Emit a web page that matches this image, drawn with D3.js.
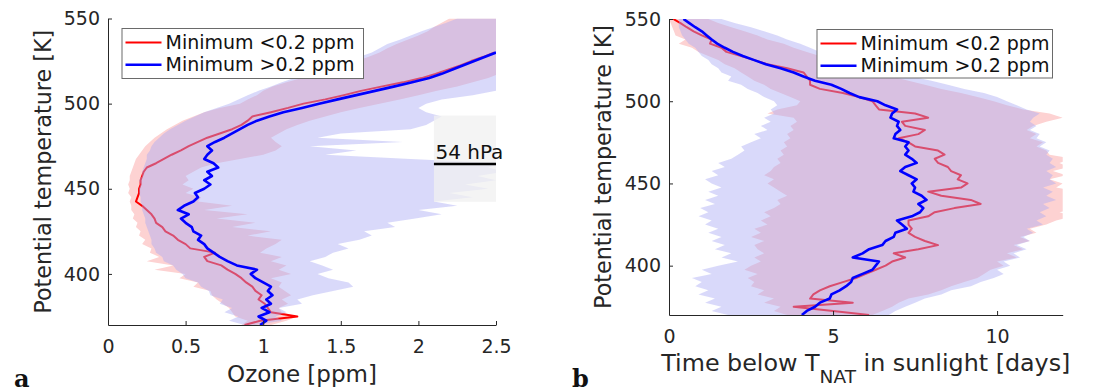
<!DOCTYPE html>
<html><head><meta charset="utf-8">
<script src="https://cdn.jsdelivr.net/npm/d3@7"></script>
<style>body{margin:0;background:#fff}svg{display:block}</style>
</head><body>
<script>
// Potential temperature levels [K]
const levels = [370,372.5,375,377.5,380,382.5,385,387.5,390,392.5,
  395,397.5,400,402.5,405,407.5,410,412.5,415,417.5,
  420,422.5,425,427.5,430,432.5,435,437.5,440,442.5,
  445,447.5,450,452.5,455,457.5,460,462.5,465,467.5,
  470,472.5,475,477.5,480,482.5,485,487.5,490,492.5,
  495,497.5,500,502.5,505,507.5,510,512.5,515,517.5,
  520,522.5,525,527.5,530,532.5,535,537.5,540,542.5,
  545,547.5,550];

// Panel a: ozone [ppm]
const ozoneLowMedian = [0.88,0.98,1.22,1.05,1.03,1.01,0.97,0.99,0.95,0.93,
  0.89,0.86,0.82,0.77,0.73,0.64,0.62,0.69,0.53,0.50,
  0.45,0.42,0.37,0.35,0.31,0.30,0.28,0.25,0.22,0.18,
  0.19,0.20,0.20,0.21,0.21,0.22,0.23,0.25,0.31,0.36,
  0.41,0.47,0.52,0.58,0.64,0.72,0.80,0.86,0.90,0.93,
  1.05,1.16,1.26,1.40,1.52,1.63,1.76,1.90,2.02,2.11,
  2.19,2.27,2.34,2.42,2.49,null,null,null,null,null,
  null,null,null];
const ozoneHighMedian = [0.98,1.02,0.97,1.04,0.99,1.05,1.02,1.06,1.03,1.05,
  1.00,0.95,0.92,0.96,0.83,0.77,0.72,0.68,0.64,0.62,
  0.58,0.60,0.55,0.54,0.50,0.47,0.52,0.45,0.49,0.55,
  0.58,0.56,0.62,0.66,0.62,0.67,0.64,0.71,0.68,0.62,
  0.64,0.67,0.64,0.69,0.75,0.80,0.85,0.90,0.96,1.04,
  1.13,1.25,1.36,1.48,1.60,1.72,1.84,1.96,2.07,2.15,
  2.22,2.29,2.36,2.43,2.50,null,null,null,null,null,
  null,null,null];
const ozoneLowMin = [0.86,0.90,0.82,0.80,0.78,0.74,0.70,0.67,0.66,0.55,
  0.58,0.46,0.50,0.30,0.42,0.25,0.33,0.27,0.28,0.22,
  0.24,0.20,0.21,0.18,0.19,0.16,0.17,0.15,0.15,0.14,
  0.15,0.13,0.14,0.13,0.14,0.14,0.15,0.16,0.17,0.18,
  0.20,0.22,0.24,0.27,0.30,0.34,0.38,0.43,0.48,0.55,
  0.62,0.72,0.85,0.90,0.96,1.00,1.06,1.15,1.25,1.34,
  1.42,1.52,1.60,1.68,1.75,1.80,1.86,1.93,2.00,2.06,
  2.10,2.15,2.20];
const ozoneLowMax = [1.05,1.15,1.22,1.12,1.10,1.16,1.12,1.18,1.14,1.10,
  1.12,1.05,1.18,1.10,1.15,1.05,1.12,0.98,1.02,1.08,
  1.12,0.90,1.05,0.80,0.95,0.70,0.90,0.62,0.80,0.58,
  0.60,0.50,0.55,0.48,0.52,0.50,0.55,0.60,0.70,0.85,
  1.00,1.08,1.12,1.08,1.05,1.10,1.15,1.22,1.30,1.40,
  1.50,1.62,1.75,1.88,2.00,2.12,2.25,2.35,2.45,2.52,
  2.58,2.6,2.6,2.6,2.6,2.6,2.6,2.6,2.6,2.6,
  2.6,2.6,2.6];
const ozoneHighMin = [0.88,0.78,0.84,0.75,0.80,0.72,0.74,0.66,0.65,0.60,
  0.58,0.50,0.48,0.44,0.42,0.36,0.35,0.31,0.30,0.28,
  0.28,0.27,0.26,0.25,0.24,0.24,0.23,0.22,0.22,0.21,
  0.21,0.20,0.20,0.21,0.20,0.22,0.22,0.23,0.24,0.25,
  0.25,0.27,0.28,0.30,0.33,0.36,0.40,0.45,0.50,0.56,
  0.62,0.70,0.78,0.84,0.90,0.97,1.05,1.12,1.20,1.30,
  1.40,1.48,1.55,1.62,1.70,1.75,1.80,1.88,1.95,2.02,
  2.10,2.18,2.25];
const ozoneHighMax = [0.95,1.12,1.08,1.15,1.10,1.25,1.22,1.32,1.45,1.58,
  1.55,1.42,1.35,1.45,1.38,1.30,1.40,1.45,1.55,1.48,
  1.62,1.70,1.65,1.85,1.80,1.98,2.15,2.00,2.25,2.10,
  2.35,2.20,2.45,2.30,2.50,2.38,2.55,2.45,2.55,1.95,
  1.40,1.60,1.30,1.90,1.35,1.50,1.95,2.05,2.10,2.15,
  2.05,2.00,2.05,2.15,2.35,2.50,2.6,2.6,2.6,2.6,
  2.6,2.6,2.6,2.6,2.6,2.6,2.6,2.6,2.6,2.6,
  2.6,2.6,2.6];

// Panel b: time below T_NAT in sunlight [days]
const timeLowMedian = [6.1,5.0,3.8,5.6,4.3,4.4,4.6,4.9,5.3,5.7,
  6.0,6.3,6.6,6.8,7.2,6.85,7.6,8.2,7.8,7.5,
  7.3,7.4,7.3,7.3,7.9,8.1,8.7,9.5,9.2,8.3,
  7.9,8.9,9.1,8.8,8.9,8.6,8.5,8.2,8.1,8.4,
  8.2,7.5,7.3,7.0,7.6,7.8,7.2,7.1,7.9,7.5,
  6.4,6.3,6.2,5.8,5.3,4.6,4.3,4.3,4.2,4.1,
  3.6,3.0,2.6,2.2,1.75,1.6,1.25,1.3,1.0,0.75,
  0.54,0.35,0.13];
const timeHighMedian = [4.05,4.2,4.45,4.6,4.9,4.95,5.2,5.4,5.55,5.6,
  5.9,6.2,6.3,6.4,5.6,5.9,6.1,6.5,6.6,6.85,
  6.9,7.25,7.1,6.95,7.4,7.65,7.75,7.6,7.85,7.7,
  7.45,7.5,7.4,7.55,7.3,7.05,7.2,7.55,7.4,7.2,
  7.3,7.2,7.3,6.85,6.9,7.05,6.95,7.0,6.75,6.8,
  6.95,6.6,6.35,5.8,5.5,5.25,4.95,4.45,4.1,3.8,
  3.4,2.95,2.6,2.25,1.95,1.7,1.47,1.3,1.15,1.0,
  0.8,0.62,0.44];
const timeLowMin = [3.6,3.2,3.4,2.9,3.2,2.7,2.9,2.5,2.6,2.4,
  2.7,2.3,2.5,2.8,2.6,2.9,2.7,2.6,2.9,2.5,
  2.8,2.6,3.0,2.8,3.1,2.9,3.2,3.4,3.3,3.6,
  3.4,3.2,3.0,3.2,2.9,3.1,3.2,3.4,3.3,3.5,
  3.4,3.6,3.5,3.7,3.6,3.8,3.7,3.9,3.8,3.0,
  3.3,3.9,4.0,3.7,3.4,3.1,2.9,2.6,2.4,2.2,
  2.0,1.7,1.5,1.2,0.9,0.7,0.3,0.5,0.2,0.15,
  0.1,0.05,0.0];
const timeLowMax = [6.2,6.5,6.8,7.0,7.3,7.9,8.3,8.6,9.0,9.4,
  9.6,9.8,10.2,10.0,10.6,10.3,10.8,10.5,11.0,10.7,
  11.2,11.0,11.5,11.8,12.3,11.9,12.5,12.2,12.6,12.2,
  12.5,11.8,12.0,11.6,12.1,11.7,12.2,11.9,12.3,11.6,
  11.5,11.2,11.4,11.0,11.2,10.9,11.1,11.5,12.0,11.6,
  10.8,10.3,9.9,9.4,8.9,8.3,7.8,7.3,6.8,6.4,
  6.0,5.5,5.0,4.6,4.2,3.8,3.5,3.0,2.7,2.3,
  1.9,1.5,1.2];
const timeHighMin = [1.8,1.3,1.6,1.1,1.4,0.9,1.2,0.8,1.0,0.7,
  1.3,1.0,1.5,2.1,1.6,1.9,1.4,1.7,1.3,1.6,
  1.2,1.5,1.1,1.3,0.9,1.2,0.95,1.4,1.1,1.5,
  1.2,1.6,1.3,1.1,1.5,1.3,1.7,1.5,1.9,2.1,
  2.3,2.2,2.5,2.8,2.6,3.0,2.8,3.1,2.9,3.2,
  3.1,3.3,3.2,2.9,2.7,2.4,2.2,1.8,1.9,1.6,
  1.5,1.3,1.2,1.0,0.9,0.8,0.6,0.5,0.4,0.35,
  0.3,0.3,0.3];
const timeHighMax = [6.7,6.9,7.2,7.5,7.8,8.3,8.6,9.2,9.5,9.9,
  10.2,10.0,10.4,10.2,10.7,10.5,10.9,10.6,11.0,10.8,
  11.1,10.9,11.4,11.2,11.5,11.3,11.6,11.4,11.8,11.5,
  11.7,11.4,11.8,11.6,11.7,11.5,11.8,11.6,11.7,11.5,
  11.6,11.3,11.5,11.2,11.3,11.0,11.2,11.0,11.1,11.3,
  10.9,10.6,10.3,10.0,9.6,9.0,8.5,8.0,7.4,6.9,
  6.4,5.9,5.4,5.0,4.6,4.3,4.0,3.6,3.3,2.9,
  2.5,2.0,1.6];

const thetaTicks = [400,450,500,550];
const ozoneTicks = [0,0.5,1,1.5,2,2.5];
const timeTicks = [0,5,10];
const legendLabels = ["Minimum <0.2 ppm","Minimum >0.2 ppm"];

const W = 1093, H = 392;
const AX = "#262626";
const FONT = '"DejaVu Sans", sans-serif';
const svg = d3.select("body").append("svg").attr("width", W).attr("height", H)
  .style("font-family", FONT);
const defs = svg.append("defs");

function drawPanel(o) {
  const x = d3.scaleLinear().domain(o.xDomain).range([o.left, o.right]);
  const y = d3.scaleLinear().domain([370, 550]).range([o.bottom, o.top]);
  const clipId = "clip" + o.id;
  defs.append("clipPath").attr("id", clipId).append("rect")
    .attr("x", o.left).attr("y", o.top)
    .attr("width", o.right - o.left).attr("height", o.bottom - o.top);
  const plot = svg.append("g").attr("clip-path", `url(#${clipId})`);

  const band = (lo, hi) => levels.map((t, i) => ({t, lo: lo[i], hi: hi[i]}));
  const series = (v) => levels.map((t, i) => ({t, v: v[i]}));
  const area = d3.area().y(d => y(d.t)).x0(d => x(d.lo)).x1(d => x(d.hi));
  const line = d3.line().defined(d => d.v != null).y(d => y(d.t)).x(d => x(d.v));

  plot.append("path").datum(band(o.redLo, o.redHi)).attr("d", area).attr("fill", "#fdd2d2");
  plot.append("path").datum(series(o.redMed)).attr("d", line)
    .attr("fill", "none").attr("stroke", "#ff0000").attr("stroke-width", 2).attr("stroke-linejoin", "round");
  plot.append("path").datum(band(o.blueLo, o.blueHi)).attr("d", area)
    .attr("fill", "#aaaaf5").attr("fill-opacity", 0.45);
  plot.append("path").datum(series(o.blueMed)).attr("d", line)
    .attr("fill", "none").attr("stroke", "#0000ff").attr("stroke-width", 2.6).attr("stroke-linejoin", "round");

  if (o.annot) {
    const a = o.annot;
    svg.append("rect").attr("x", x(a.x0)).attr("y", y(a.tTop))
      .attr("width", x(a.x1) - x(a.x0)).attr("height", y(a.tBottom) - y(a.tTop))
      .attr("fill", "#f0f0f0").attr("fill-opacity", 0.75);
    svg.append("line").attr("x1", x(a.x0)).attr("x2", x(a.x1))
      .attr("y1", y(a.tLine)).attr("y2", y(a.tLine))
      .attr("stroke", "#000").attr("stroke-width", 2.5);
    svg.append("text").attr("x", x(a.x0) + 1.5).attr("y", y(a.tLine) - 5)
      .attr("font-size", 20).attr("fill", "#111").text(a.label);
  }

  // axes
  const xa = svg.append("g").attr("transform", `translate(0,${o.bottom})`)
    .call(d3.axisBottom(x).tickValues(o.xTicks).tickFormat(d => String(d))
      .tickSizeInner(-4).tickSizeOuter(0).tickPadding(14.5));
  const ya = svg.append("g").attr("transform", `translate(${o.left},0)`)
    .call(d3.axisLeft(y).tickValues(thetaTicks).tickFormat(d => String(d))
      .tickSizeInner(-4).tickSizeOuter(0).tickPadding(8));
  [xa, ya].forEach(g => {
    g.attr("font-family", FONT).attr("font-size", 19);
    g.selectAll("path,line").attr("stroke", AX);
    g.selectAll("text").attr("fill", AX);
  });

  // axis labels
  svg.append("text").attr("transform", `translate(${o.yLabelX},${(o.top + o.bottom) / 2}) rotate(-90)`)
    .attr("text-anchor", "middle").attr("font-size", 22.3).attr("fill", AX)
    .text("Potential temperature [K]");
  const xl = svg.append("text").attr("x", (o.left + o.right) / 2).attr("y", o.xLabelY)
    .attr("text-anchor", "middle").attr("font-size", o.xLabelSize).attr("fill", AX);
  o.xLabel.forEach(p => {
    const ts = xl.append("tspan").text(p.text);
    if (p.sub) ts.attr("font-size", 18.5).attr("dy", 12);
    if (p.after) ts.attr("dy", -12);
  });

  // panel letter
  svg.append("text").attr("x", o.letterX).attr("y", 387)
    .attr("font-family", '"DejaVu Serif", serif').attr("font-weight", "bold")
    .attr("font-size", 24).attr("fill", "#111").text(o.letter);

  // legend
  const L = o.legend;
  svg.append("rect").attr("x", L.x + 0.5).attr("y", L.y + 0.5).attr("width", L.w).attr("height", L.h)
    .attr("fill", "#fff").attr("stroke", "#6a6a6a").attr("stroke-width", 1);
  const cols = ["#ff0000", "#0000ff"];
  const widths = [2, 2.6];
  legendLabels.forEach((lab, i) => {
    const cy = L.y + 14.4 + i * 22.4;
    svg.append("line").attr("x1", L.x + 4).attr("x2", L.x + 40).attr("y1", cy).attr("y2", cy)
      .attr("stroke", cols[i]).attr("stroke-width", widths[i]);
    svg.append("text").attr("x", L.x + 44).attr("y", cy + 6.5)
      .attr("font-size", 19).attr("fill", "#111").text(lab);
  });
}

drawPanel({
  id: "a", left: 108, right: 496, top: 18.5, bottom: 325,
  xDomain: [0, 2.5], xTicks: ozoneTicks,
  redLo: ozoneLowMin, redHi: ozoneLowMax, redMed: ozoneLowMedian,
  blueLo: ozoneHighMin, blueHi: ozoneHighMax, blueMed: ozoneHighMedian,
  yLabelX: 51, xLabelY: 382, xLabelSize: 23,
  xLabel: [{text: "Ozone [ppm]"}],
  letter: "a", letterX: 14,
  legend: {x: 121.5, y: 28, w: 241.5, h: 50},
  annot: {x0: 2.1, x1: 2.5, tTop: 493, tBottom: 442.3, tLine: 464.5, label: "54 hPa"}
});

drawPanel({
  id: "b", left: 669, right: 1062.7, top: 19, bottom: 315,
  xDomain: [0, 12], xTicks: timeTicks,
  redLo: timeLowMin, redHi: timeLowMax, redMed: timeLowMedian,
  blueLo: timeHighMin, blueHi: timeHighMax, blueMed: timeHighMedian,
  yLabelX: 611, xLabelY: 370.5, xLabelSize: 23.8,
  xLabel: [{text: "Time below T"}, {text: "NAT", sub: true}, {text: " in sunlight [days]", after: true}],
  letter: "b", letterX: 572,
  legend: {x: 816.5, y: 29, w: 235.5, h: 48.5}
});
</script>
</body></html>
